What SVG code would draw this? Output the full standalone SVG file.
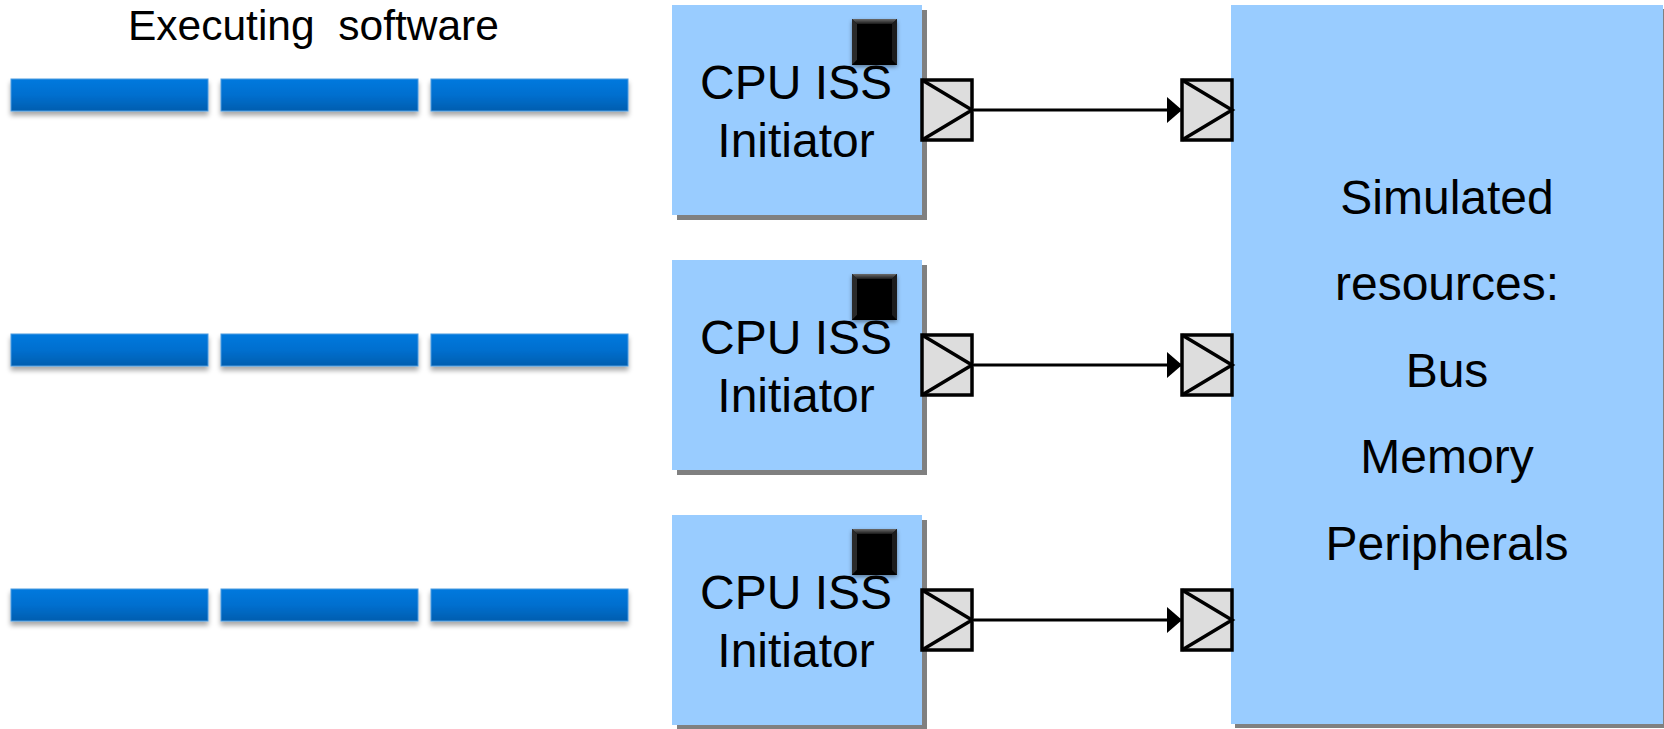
<svg xmlns="http://www.w3.org/2000/svg" width="1664" height="729" viewBox="0 0 1664 729">
  <style>
    text { font-family: "Liberation Sans", Arial, sans-serif; fill: #000; }
    .title { font-size: 42.5px; white-space: pre; }
    .cpu-label { font-size: 48px; text-anchor: middle; }
    .res-label { font-size: 48px; text-anchor: middle; }
    .box { fill: #99ccff; }
    .shadow { fill: #808080; }
    .port { fill: #dddddd; stroke: #000; stroke-width: 3.5; }
    .port-tri { fill: none; stroke: #000; stroke-width: 3.5; }
    .bar { fill: url(#barGrad); stroke: #4a9be0; stroke-width: 1; filter: url(#barShadow); }
    .wire { stroke: #000; stroke-width: 3; fill: none; }
  </style>
  <defs>
    <linearGradient id="barGrad" x1="0" y1="0" x2="0" y2="1">
      <stop offset="0" stop-color="#0079de"/>
      <stop offset="0.5" stop-color="#006fcf"/>
      <stop offset="1" stop-color="#005eaf"/>
    </linearGradient>
    <linearGradient id="bevelTop" x1="0" y1="0" x2="0" y2="1">
      <stop offset="0" stop-color="#6a6a6a"/>
      <stop offset="1" stop-color="#1a1a1a"/>
    </linearGradient>
    <filter id="barShadow" x="-5%" y="-30%" width="110%" height="180%">
      <feGaussianBlur in="SourceAlpha" stdDeviation="2.5"/>
      <feOffset dx="0" dy="4" result="b"/>
      <feComponentTransfer><feFuncA type="linear" slope="0.35"/></feComponentTransfer>
      <feMerge><feMergeNode/><feMergeNode in="SourceGraphic"/></feMerge>
    </filter>
    <filter id="chipShadow" x="-30%" y="-30%" width="160%" height="160%">
      <feGaussianBlur in="SourceAlpha" stdDeviation="2"/>
      <feOffset dx="0" dy="2"/>
      <feComponentTransfer><feFuncA type="linear" slope="0.4"/></feComponentTransfer>
      <feMerge><feMergeNode/><feMergeNode in="SourceGraphic"/></feMerge>
    </filter>
    <!-- bevelled black status chip -->
    <g id="chip" filter="url(#chipShadow)">
      <rect x="0" y="0" width="45" height="46" fill="#111"/>
      <polygon points="0,0 45,0 40,5 5,5" fill="url(#bevelTop)"/>
      <polygon points="0,0 5,5 5,41 0,46" fill="#2a2a2a"/>
      <polygon points="45,0 40,5 40,41 45,46" fill="#1e1e1e"/>
      <polygon points="0,46 5,41 40,41 45,46" fill="#000"/>
      <rect x="5" y="5" width="35" height="36" fill="#050505"/>
    </g>
    <!-- socket port: grey square with a triangle pointing right -->
    <g id="port">
      <rect class="port" x="0" y="0" width="50" height="60"/>
      <polyline class="port-tri" points="0,0 50,30 0,60"/>
    </g>
    <marker id="arrow" viewBox="0 0 15 26" refX="15" refY="13" markerWidth="15" markerHeight="26" markerUnits="userSpaceOnUse" orient="auto">
      <polygon points="0,0 15,13 0,26" fill="#000"/>
    </marker>
  </defs>

  <rect width="1664" height="729" fill="#fff"/>

  <!-- software threads -->
  <g id="software">
    <text class="title" x="128" y="40">Executing  software</text>
    <g id="thread-1">
      <rect class="bar" x="11" y="79" width="197" height="32"/>
      <rect class="bar" x="221" y="79" width="197" height="32"/>
      <rect class="bar" x="431" y="79" width="197" height="32"/>
    </g>
    <g id="thread-2">
      <rect class="bar" x="11" y="334" width="197" height="32"/>
      <rect class="bar" x="221" y="334" width="197" height="32"/>
      <rect class="bar" x="431" y="334" width="197" height="32"/>
    </g>
    <g id="thread-3">
      <rect class="bar" x="11" y="589" width="197" height="32"/>
      <rect class="bar" x="221" y="589" width="197" height="32"/>
      <rect class="bar" x="431" y="589" width="197" height="32"/>
    </g>
  </g>

  <!-- CPU instruction set simulators -->
  <g id="cpu-1" transform="translate(672,5)">
    <rect class="shadow" x="5" y="5" width="250" height="210"/>
    <rect class="box" x="0" y="0" width="250" height="210"/>
    <text class="cpu-label" x="124" y="94">CPU ISS</text>
    <text class="cpu-label" x="124" y="152">Initiator</text>
    <use href="#chip" x="180" y="14"/>
    <use href="#port" x="250" y="75"/>
  </g>
  <g id="cpu-2" transform="translate(672,260)">
    <rect class="shadow" x="5" y="5" width="250" height="210"/>
    <rect class="box" x="0" y="0" width="250" height="210"/>
    <text class="cpu-label" x="124" y="94">CPU ISS</text>
    <text class="cpu-label" x="124" y="152">Initiator</text>
    <use href="#chip" x="180" y="14"/>
    <use href="#port" x="250" y="75"/>
  </g>
  <g id="cpu-3" transform="translate(672,515)">
    <rect class="shadow" x="5" y="5" width="250" height="210"/>
    <rect class="box" x="0" y="0" width="250" height="210"/>
    <text class="cpu-label" x="124" y="94">CPU ISS</text>
    <text class="cpu-label" x="124" y="152">Initiator</text>
    <use href="#chip" x="180" y="14"/>
    <use href="#port" x="250" y="75"/>
  </g>

  <!-- shared simulated platform -->
  <g id="resources">
    <rect class="shadow" x="1235" y="9" width="432" height="719"/>
    <rect class="box" x="1231" y="5" width="432" height="719"/>
    <text class="res-label" x="1447" y="214">Simulated</text>
    <text class="res-label" x="1447" y="300">resources:</text>
    <text class="res-label" x="1447" y="387">Bus</text>
    <text class="res-label" x="1447" y="473">Memory</text>
    <text class="res-label" x="1447" y="560">Peripherals</text>
    <use href="#port" x="1182" y="80"/>
    <use href="#port" x="1182" y="335"/>
    <use href="#port" x="1182" y="590"/>
  </g>

  <!-- initiator-to-target connections -->
  <g id="connectors">
    <line class="wire" x1="974" y1="110" x2="1182" y2="110" marker-end="url(#arrow)"/>
    <line class="wire" x1="974" y1="365" x2="1182" y2="365" marker-end="url(#arrow)"/>
    <line class="wire" x1="974" y1="620" x2="1182" y2="620" marker-end="url(#arrow)"/>
  </g>
</svg>
